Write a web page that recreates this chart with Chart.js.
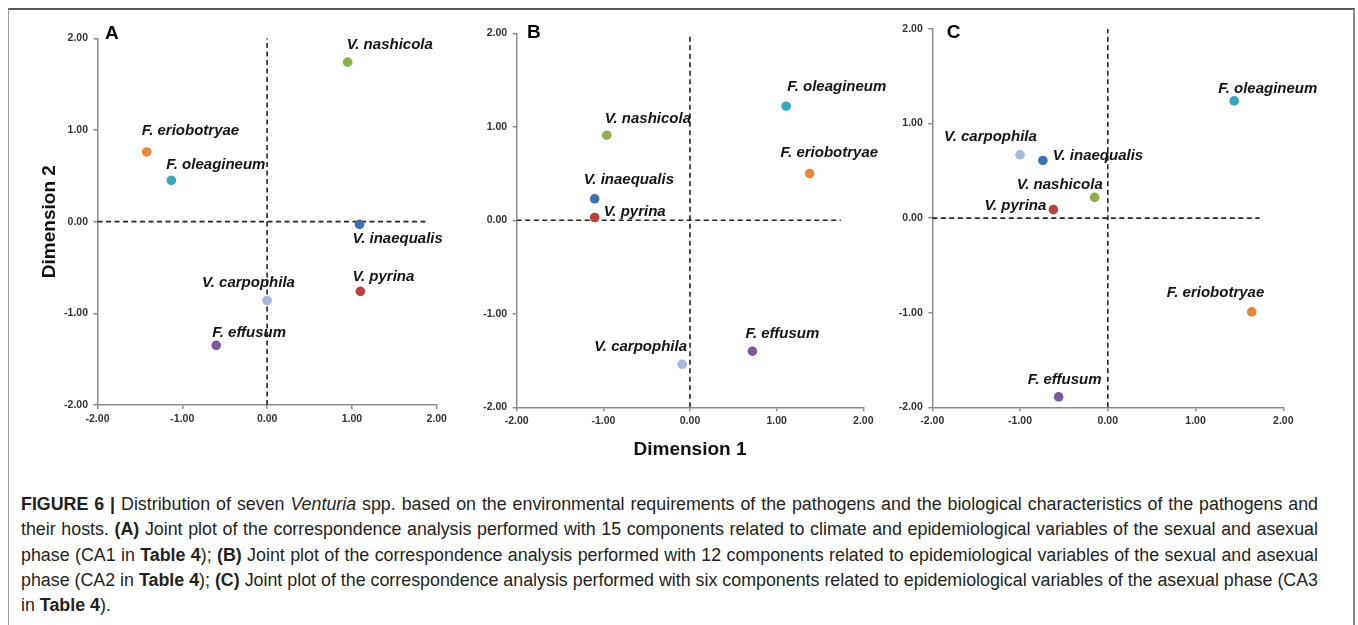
<!DOCTYPE html>
<html>
<head>
<meta charset="utf-8">
<script src="https://cdn.jsdelivr.net/npm/chart.js@4.4.0/dist/chart.umd.min.js"></script>
<style>
  body { margin: 0; background: #fff; width: 1358px; height: 625px; overflow: hidden; position: relative;
         font-family: "Liberation Sans", Arial, sans-serif; }
  #frame { position: absolute; left: 8px; top: 8px; width: 1344px; height: 660px;
           border-top: 2px solid #5a5a5a; border-left: 1.5px solid #9a9a9a; border-right: 2px solid #8a8a8a; }
  canvas { position: absolute; }
  #caption { position: absolute; left: 21px; top: 492px; width: 1297px; color: #231f20;
             font-size: 17px; line-height: 25.3px; }
  #caption div { white-space: nowrap; }
  #caption span.t { display: inline-block; }
</style>
</head>
<body>
<div id="frame"></div>
<canvas id="panelA" width="440" height="410" style="left:20px;top:20px"></canvas>
<canvas id="panelB" width="420" height="455" style="left:470px;top:15px"></canvas>
<canvas id="panelC" width="460" height="420" style="left:890px;top:10px"></canvas>

<div id="caption">
  <div class="ln"><span class="t"><b>FIGURE 6 |</b> Distribution of seven <i>Venturia</i> spp. based on the environmental requirements of the pathogens and the biological characteristics of the pathogens and</span></div>
  <div class="ln"><span class="t">their hosts. <b>(A)</b> Joint plot of the correspondence analysis performed with 15 components related to climate and epidemiological variables of the sexual and asexual</span></div>
  <div class="ln"><span class="t">phase (CA1 in <b>Table 4</b>); <b>(B)</b> Joint plot of the correspondence analysis performed with 12 components related to epidemiological variables of the sexual and asexual</span></div>
  <div class="ln"><span class="t">phase (CA2 in <b>Table 4</b>); <b>(C)</b> Joint plot of the correspondence analysis performed with six components related to epidemiological variables of the asexual phase (CA3</span></div>
  <div><span>in <b>Table 4</b>).</span></div>
</div>

<script>
// species shown in every panel
const species = ["V. nashicola", "F. eriobotryae", "F. oleagineum", "V. inaequalis", "V. pyrina", "V. carpophila", "F. effusum"];
const speciesColors = ["#8db04b", "#e8873b", "#3ba5c0", "#3e70b6", "#b9423f", "#a2b8de", "#7b5a9c"];

// (A) CA1
const dim1A = [0.95, -1.42, -1.13, 1.09, 1.10, 0.00, -0.60];
const dim2A = [1.74, 0.76, 0.45, -0.03, -0.76, -0.86, -1.35];
// (B) CA2
const dim1B = [-0.96, 1.38, 1.11, -1.10, -1.10, -0.09, 0.72];
const dim2B = [0.91, 0.50, 1.22, 0.23, 0.03, -1.54, -1.40];
// (C) CA3
const dim1C = [-0.15, 1.64, 1.44, -0.74, -0.62, -1.00, -0.56];
const dim2C = [0.22, -0.99, 1.24, 0.61, 0.09, 0.67, -1.89];

const axisMin = -2, axisMax = 2, axisStep = 1;
// the dashed zero line on dimension 2 stops short of the right edge
const zeroLineEnd = [1.88, 1.74, 1.73];

// label placement next to each point (px: left of text, middle of text)
const labelOffA = [[-1, -17], [-5, -21], [-5, -16], [-7, 14], [-8, -14], [-65, -18], [-4, -13]];
const labelOffB = [[-2, -16], [-29, -21], [1, -19], [-11, -19], [9, -6], [-88, -17], [-7, -17]];
const labelOffC = [[-78, -12], [-85, -19], [-16, -12], [10, -5], [-69, -4], [-76, -18], [-31, -17]];

const FONT = '"Liberation Sans", Arial, sans-serif';
const AXIS_GREY = '#8c8c8c';

const pointLabels = {
  id: 'pointLabels',
  afterDatasetsDraw(chart, args, opts) {
    const meta = chart.getDatasetMeta(2);
    const ctx = chart.ctx;
    ctx.save();
    ctx.fillStyle = '#141414';
    ctx.textAlign = 'left';
    ctx.textBaseline = 'middle';
    ctx.font = 'italic bold 15px ' + FONT;
    meta.data.forEach((pt, i) => {
      ctx.fillText(species[i], pt.x + opts.offsets[i][0], pt.y + opts.offsets[i][1]);
    });
    ctx.font = 'bold 19px ' + FONT;
    ctx.fillStyle = '#000';
    ctx.fillText(opts.letter, chart.chartArea.left + opts.letterAt[0], chart.chartArea.top + opts.letterAt[1]);
    ctx.restore();
  }
};

function makePanel(id, xs, ys, offsets, idx, box) {
  const pts = xs.map((x, i) => ({ x: x, y: ys[i] }));
  const tickFont = { family: FONT, size: 10.5, weight: 'bold' };
  const titleFont = { family: FONT, size: 19, weight: 'bold' };
  const axis = (isX) => ({
    type: 'linear',
    min: axisMin,
    max: axisMax,
    grid: { display: true, drawOnChartArea: false, drawTicks: true, tickLength: 4, color: AXIS_GREY, lineWidth: 1.5 },
    border: { display: true, color: AXIS_GREY, width: 1.5 },
    ticks: { stepSize: axisStep, padding: isX ? 4 : 5.5, color: '#333', font: tickFont, maxRotation: 0, autoSkip: false,
             callback: (v) => Number(v).toFixed(2) },
    title: isX
      ? { display: !!box.xTitle, text: 'Dimension 1', color: '#111', font: titleFont, padding: { top: 0, bottom: 8.6 } }
      : { display: !!box.yTitle, text: 'Dimension 2', color: '#111', font: titleFont, padding: { top: 18.6, bottom: 0 } },
    afterFit: (scale) => { if (isX) scale.height = box.xHeight; else scale.width = box.yWidth; }
  });

  new Chart(document.getElementById(id), {
    type: 'scatter',
    data: {
      datasets: [
        { data: [{ x: axisMin, y: 0 }, { x: zeroLineEnd[idx], y: 0 }], showLine: true, borderColor: '#222',
          borderWidth: 1.6, borderDash: [5, 3.5], pointRadius: 0, fill: false, order: 3 },
        { data: [{ x: 0, y: axisMin }, { x: 0, y: axisMax }], showLine: true, borderColor: '#222',
          borderWidth: 1.6, borderDash: [5, 3.5], pointRadius: 0, fill: false, order: 2 },
        { data: pts, backgroundColor: speciesColors, borderColor: speciesColors, borderWidth: 0,
          pointRadius: 4.8, pointHoverRadius: 4.8, order: 1 }
      ]
    },
    options: {
      responsive: false,
      animation: false,
      events: [],
      layout: { padding: { top: box.padTop, right: box.padRight, left: 0, bottom: 0 } },
      scales: { x: axis(true), y: axis(false) },
      plugins: {
        legend: { display: false },
        tooltip: { enabled: false },
        pointLabels: { offsets: offsets, letter: box.letter, letterAt: box.letterAt }
      }
    },
    plugins: [pointLabels]
  });
}

makePanel('panelA', dim1A, dim2A, labelOffA, 0,
  { padTop: 18.3, padRight: 23.3, yWidth: 77.5, xHeight: 25, yTitle: true, letter: 'A', letterAt: [7.5, -5] });
makePanel('panelB', dim1B, dim2B, labelOffB, 1,
  { padTop: 18.3, padRight: 26.7, yWidth: 46.7, xHeight: 62.7, xTitle: true, letter: 'B', letterAt: [10.3, -0.3] });
makePanel('panelC', dim1C, dim2C, labelOffC, 2,
  { padTop: 19, padRight: 66.7, yWidth: 42.3, xHeight: 22.7, letter: 'C', letterAt: [14.4, 4] });

// size the caption so the widest line fills the column, then stretch the others to it
(function fitCaption() {
  const cap = document.getElementById('caption');
  const target = 1297;
  const lines = Array.from(cap.querySelectorAll('.ln span.t'));
  const widest = Math.max(...lines.map(s => s.getBoundingClientRect().width));
  cap.style.fontSize = (17 * target / widest).toFixed(2) + 'px';
  lines.forEach(s => {
    const w = s.getBoundingClientRect().width;
    const gaps = (s.textContent.match(/ /g) || []).length;
    if (gaps) s.style.wordSpacing = ((target - w) / gaps).toFixed(3) + 'px';
  });
})();
</script>
</body>
</html>
